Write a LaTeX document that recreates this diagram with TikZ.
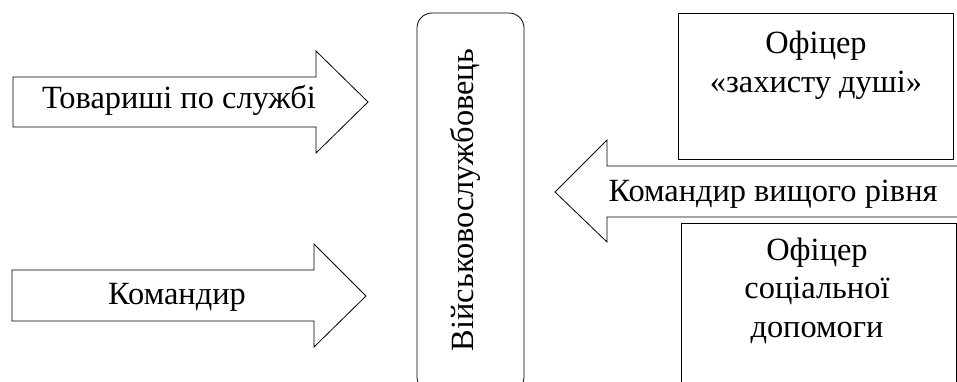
\documentclass[tikz,border=0pt]{standalone}
\usepackage{fontspec}
\setmainfont{Liberation Serif}
\usetikzlibrary{positioning}

\begin{document}
\begin{tikzpicture}[
  x=1pt, y=-1pt,
  every node/.style={font=\fontsize{32.4}{38.5}\selectfont, inner sep=0pt},
  outline/.style={draw, line width=0.8pt},
  txt/.style={anchor=base, align=center}
]
\clip (0,0) rectangle (957,381);
\fill[white] (0,0) rectangle (957,381);

% Arrows on the left
\draw[outline] (13,77) -- (316,77) -- (316,51) -- (368,102) -- (316,153) -- (316,127) -- (13,127) -- cycle;
\node[txt] (tovaryshi) at (179,108) {Товариші по службі};

\draw[outline] (12,270) -- (314,270) -- (314,244) -- (366,296) -- (314,347) -- (314,321) -- (12,321) -- cycle;
\node[txt] (komandyr) at (177,304) {Командир};

% Serviceman in the middle
\draw[outline, rounded corners=15pt] (417,13) rectangle (524,392);
\node[rotate=90, anchor=base] (soldier) at (473,200) {Військовослужбовець};

% Boxes on the right (last line at the base)
\draw[outline] (678,13) rectangle (953,159);
\node[txt] (dusha) at (816,92) {Офіцер\\«захисту душі»};

\draw[outline] (681,223) rectangle (956,400);
\node[txt] (social) at (817,337) {Офіцер\\соціальної\\допомоги};

% Arrow on the right
\draw[outline, fill=white] (965,166) -- (607,166) -- (607,140) -- (555,192) -- (607,242) -- (607,217) -- (965,217);
\node[txt] (vyshchyi) at (773,201) {Командир вищого рівня};

\end{tikzpicture}
\end{document}
